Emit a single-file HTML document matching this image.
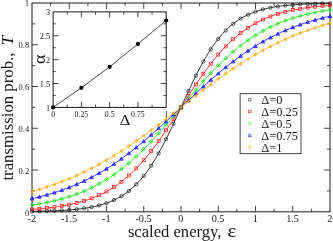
<!DOCTYPE html>
<html><head><meta charset="utf-8"><title>chart</title>
<style>html,body{margin:0;padding:0;background:#fff;}svg{display:block;will-change:transform}</style></head>
<body><svg width="333" height="241" viewBox="0 0 333 241">
<rect x="0" y="0" width="333" height="241" fill="#fff"/>
<rect x="32.0" y="3.0" width="298.0" height="208.8" fill="none" stroke="#1a1a1a" stroke-width="1"/>
<path d="M50.62 211.8v-3.1M50.62 3.0v3.1M69.25 211.8v-6.0M69.25 3.0v6.0M87.88 211.8v-3.1M87.88 3.0v3.1M106.50 211.8v-6.0M106.50 3.0v6.0M125.12 211.8v-3.1M125.12 3.0v3.1M143.75 211.8v-6.0M143.75 3.0v6.0M162.38 211.8v-3.1M162.38 3.0v3.1M181.00 211.8v-6.0M181.00 3.0v6.0M199.62 211.8v-3.1M199.62 3.0v3.1M218.25 211.8v-6.0M218.25 3.0v6.0M236.88 211.8v-3.1M236.88 3.0v3.1M255.50 211.8v-6.0M255.50 3.0v6.0M274.12 211.8v-3.1M274.12 3.0v3.1M292.75 211.8v-6.0M292.75 3.0v6.0M311.38 211.8v-3.1M311.38 3.0v3.1M32.0 190.92h3.1M330.0 190.92h-3.1M32.0 170.04h6.0M330.0 170.04h-6.0M32.0 149.16h3.1M330.0 149.16h-3.1M32.0 128.28h6.0M330.0 128.28h-6.0M32.0 107.40h3.1M330.0 107.40h-3.1M32.0 86.52h6.0M330.0 86.52h-6.0M32.0 65.64h3.1M330.0 65.64h-3.1M32.0 44.76h6.0M330.0 44.76h-6.0M32.0 23.88h3.1M330.0 23.88h-3.1" stroke="#1a1a1a" stroke-width="0.8" fill="none"/>
<clipPath id="c"><rect x="29.0" y="0.0" width="304.0" height="214.8"/></clipPath>
<g clip-path="url(#c)">
<polyline points="32.00,211.41 33.49,211.39 34.98,211.36 36.47,211.33 37.96,211.30 39.45,211.27 40.94,211.23 42.43,211.20 43.92,211.16 45.41,211.12 46.90,211.07 48.39,211.02 49.88,210.97 51.37,210.92 52.86,210.86 54.35,210.80 55.84,210.74 57.33,210.67 58.82,210.60 60.31,210.52 61.80,210.44 63.29,210.35 64.78,210.26 66.27,210.16 67.76,210.05 69.25,209.94 70.74,209.82 72.23,209.69 73.72,209.56 75.21,209.42 76.70,209.26 78.19,209.10 79.68,208.93 81.17,208.74 82.66,208.55 84.15,208.34 85.64,208.12 87.13,207.89 88.62,207.64 90.11,207.38 91.60,207.09 93.09,206.80 94.58,206.48 96.07,206.15 97.56,205.79 99.05,205.41 100.54,205.01 102.03,204.59 103.52,204.13 105.01,203.66 106.50,203.15 107.99,202.61 109.48,202.05 110.97,201.45 112.46,200.81 113.95,200.14 115.44,199.42 116.93,198.67 118.42,197.88 119.91,197.04 121.40,196.15 122.89,195.22 124.38,194.24 125.87,193.20 127.36,192.11 128.85,190.96 130.34,189.75 131.83,188.48 133.32,187.14 134.81,185.74 136.30,184.28 137.79,182.74 139.28,181.13 140.77,179.45 142.26,177.70 143.75,175.86 145.24,173.96 146.73,171.97 148.22,169.91 149.71,167.76 151.20,165.54 152.69,163.24 154.18,160.86 155.67,158.40 157.16,155.86 158.65,153.25 160.14,150.57 161.63,147.82 163.12,144.99 164.61,142.11 166.10,139.16 167.59,136.16 169.08,133.10 170.57,130.00 172.06,126.85 173.55,123.67 175.04,120.45 176.53,117.21 178.02,113.95 179.51,110.68 181.00,107.40 182.49,104.12 183.98,100.85 185.47,97.59 186.96,94.35 188.45,91.13 189.94,87.95 191.43,84.80 192.92,81.70 194.41,78.64 195.90,75.64 197.39,72.69 198.88,69.81 200.37,66.98 201.86,64.23 203.35,61.55 204.84,58.94 206.33,56.40 207.82,53.94 209.31,51.56 210.80,49.26 212.29,47.04 213.78,44.89 215.27,42.83 216.76,40.84 218.25,38.94 219.74,37.10 221.23,35.35 222.72,33.67 224.21,32.06 225.70,30.52 227.19,29.06 228.68,27.66 230.17,26.32 231.66,25.05 233.15,23.84 234.64,22.69 236.13,21.60 237.62,20.56 239.11,19.58 240.60,18.65 242.09,17.76 243.58,16.92 245.07,16.13 246.56,15.38 248.05,14.66 249.54,13.99 251.03,13.35 252.52,12.75 254.01,12.19 255.50,11.65 256.99,11.14 258.48,10.67 259.97,10.21 261.46,9.79 262.95,9.39 264.44,9.01 265.93,8.65 267.42,8.32 268.91,8.00 270.40,7.71 271.89,7.42 273.38,7.16 274.87,6.91 276.36,6.68 277.85,6.46 279.34,6.25 280.83,6.06 282.32,5.87 283.81,5.70 285.30,5.54 286.79,5.38 288.28,5.24 289.77,5.11 291.26,4.98 292.75,4.86 294.24,4.75 295.73,4.64 297.22,4.54 298.71,4.45 300.20,4.36 301.69,4.28 303.18,4.20 304.67,4.13 306.16,4.06 307.65,4.00 309.14,3.94 310.63,3.88 312.12,3.83 313.61,3.78 315.10,3.73 316.59,3.68 318.08,3.64 319.57,3.60 321.06,3.57 322.55,3.53 324.04,3.50 325.53,3.47 327.02,3.44 328.51,3.41 330.00,3.39" fill="none" stroke="#000000" stroke-width="0.8"/>
<circle cx="32.00" cy="211.41" r="1.65" fill="none" stroke="#000000" stroke-width="0.65"/>
<circle cx="39.45" cy="211.27" r="1.65" fill="none" stroke="#000000" stroke-width="0.65"/>
<circle cx="46.90" cy="211.07" r="1.65" fill="none" stroke="#000000" stroke-width="0.65"/>
<circle cx="54.35" cy="210.80" r="1.65" fill="none" stroke="#000000" stroke-width="0.65"/>
<circle cx="61.80" cy="210.44" r="1.65" fill="none" stroke="#000000" stroke-width="0.65"/>
<circle cx="69.25" cy="209.94" r="1.65" fill="none" stroke="#000000" stroke-width="0.65"/>
<circle cx="76.70" cy="209.26" r="1.65" fill="none" stroke="#000000" stroke-width="0.65"/>
<circle cx="84.15" cy="208.34" r="1.65" fill="none" stroke="#000000" stroke-width="0.65"/>
<circle cx="91.60" cy="207.09" r="1.65" fill="none" stroke="#000000" stroke-width="0.65"/>
<circle cx="99.05" cy="205.41" r="1.65" fill="none" stroke="#000000" stroke-width="0.65"/>
<circle cx="106.50" cy="203.15" r="1.65" fill="none" stroke="#000000" stroke-width="0.65"/>
<circle cx="113.95" cy="200.14" r="1.65" fill="none" stroke="#000000" stroke-width="0.65"/>
<circle cx="121.40" cy="196.15" r="1.65" fill="none" stroke="#000000" stroke-width="0.65"/>
<circle cx="128.85" cy="190.96" r="1.65" fill="none" stroke="#000000" stroke-width="0.65"/>
<circle cx="136.30" cy="184.28" r="1.65" fill="none" stroke="#000000" stroke-width="0.65"/>
<circle cx="143.75" cy="175.86" r="1.65" fill="none" stroke="#000000" stroke-width="0.65"/>
<circle cx="151.20" cy="165.54" r="1.65" fill="none" stroke="#000000" stroke-width="0.65"/>
<circle cx="158.65" cy="153.25" r="1.65" fill="none" stroke="#000000" stroke-width="0.65"/>
<circle cx="166.10" cy="139.16" r="1.65" fill="none" stroke="#000000" stroke-width="0.65"/>
<circle cx="173.55" cy="123.67" r="1.65" fill="none" stroke="#000000" stroke-width="0.65"/>
<circle cx="181.00" cy="107.40" r="1.65" fill="none" stroke="#000000" stroke-width="0.65"/>
<circle cx="188.45" cy="91.13" r="1.65" fill="none" stroke="#000000" stroke-width="0.65"/>
<circle cx="195.90" cy="75.64" r="1.65" fill="none" stroke="#000000" stroke-width="0.65"/>
<circle cx="203.35" cy="61.55" r="1.65" fill="none" stroke="#000000" stroke-width="0.65"/>
<circle cx="210.80" cy="49.26" r="1.65" fill="none" stroke="#000000" stroke-width="0.65"/>
<circle cx="218.25" cy="38.94" r="1.65" fill="none" stroke="#000000" stroke-width="0.65"/>
<circle cx="225.70" cy="30.52" r="1.65" fill="none" stroke="#000000" stroke-width="0.65"/>
<circle cx="233.15" cy="23.84" r="1.65" fill="none" stroke="#000000" stroke-width="0.65"/>
<circle cx="240.60" cy="18.65" r="1.65" fill="none" stroke="#000000" stroke-width="0.65"/>
<circle cx="248.05" cy="14.66" r="1.65" fill="none" stroke="#000000" stroke-width="0.65"/>
<circle cx="255.50" cy="11.65" r="1.65" fill="none" stroke="#000000" stroke-width="0.65"/>
<circle cx="262.95" cy="9.39" r="1.65" fill="none" stroke="#000000" stroke-width="0.65"/>
<circle cx="270.40" cy="7.71" r="1.65" fill="none" stroke="#000000" stroke-width="0.65"/>
<circle cx="277.85" cy="6.46" r="1.65" fill="none" stroke="#000000" stroke-width="0.65"/>
<circle cx="285.30" cy="5.54" r="1.65" fill="none" stroke="#000000" stroke-width="0.65"/>
<circle cx="292.75" cy="4.86" r="1.65" fill="none" stroke="#000000" stroke-width="0.65"/>
<circle cx="300.20" cy="4.36" r="1.65" fill="none" stroke="#000000" stroke-width="0.65"/>
<circle cx="307.65" cy="4.00" r="1.65" fill="none" stroke="#000000" stroke-width="0.65"/>
<circle cx="315.10" cy="3.73" r="1.65" fill="none" stroke="#000000" stroke-width="0.65"/>
<circle cx="322.55" cy="3.53" r="1.65" fill="none" stroke="#000000" stroke-width="0.65"/>
<circle cx="330.00" cy="3.39" r="1.65" fill="none" stroke="#000000" stroke-width="0.65"/>
<polyline points="32.00,209.40 33.49,209.30 34.98,209.18 36.47,209.07 37.96,208.94 39.45,208.81 40.94,208.68 42.43,208.54 43.92,208.39 45.41,208.24 46.90,208.08 48.39,207.92 49.88,207.74 51.37,207.56 52.86,207.37 54.35,207.18 55.84,206.97 57.33,206.76 58.82,206.53 60.31,206.30 61.80,206.05 63.29,205.80 64.78,205.53 66.27,205.26 67.76,204.97 69.25,204.67 70.74,204.36 72.23,204.03 73.72,203.69 75.21,203.33 76.70,202.96 78.19,202.58 79.68,202.18 81.17,201.76 82.66,201.33 84.15,200.87 85.64,200.40 87.13,199.91 88.62,199.40 90.11,198.87 91.60,198.32 93.09,197.75 94.58,197.16 96.07,196.54 97.56,195.89 99.05,195.23 100.54,194.53 102.03,193.81 103.52,193.07 105.01,192.30 106.50,191.49 107.99,190.66 109.48,189.80 110.97,188.91 112.46,187.98 113.95,187.03 115.44,186.04 116.93,185.01 118.42,183.95 119.91,182.86 121.40,181.73 122.89,180.57 124.38,179.37 125.87,178.13 127.36,176.85 128.85,175.53 130.34,174.18 131.83,172.78 133.32,171.35 134.81,169.88 136.30,168.36 137.79,166.81 139.28,165.22 140.77,163.59 142.26,161.91 143.75,160.20 145.24,158.45 146.73,156.66 148.22,154.83 149.71,152.97 151.20,151.07 152.69,149.13 154.18,147.16 155.67,145.16 157.16,143.12 158.65,141.05 160.14,138.95 161.63,136.82 163.12,134.67 164.61,132.49 166.10,130.28 167.59,128.06 169.08,125.81 170.57,123.55 172.06,121.27 173.55,118.98 175.04,116.68 176.53,114.37 178.02,112.05 179.51,109.73 181.00,107.40 182.49,105.07 183.98,102.75 185.47,100.43 186.96,98.12 188.45,95.82 189.94,93.53 191.43,91.25 192.92,88.99 194.41,86.74 195.90,84.52 197.39,82.31 198.88,80.13 200.37,77.98 201.86,75.85 203.35,73.75 204.84,71.68 206.33,69.64 207.82,67.64 209.31,65.67 210.80,63.73 212.29,61.83 213.78,59.97 215.27,58.14 216.76,56.35 218.25,54.60 219.74,52.89 221.23,51.21 222.72,49.58 224.21,47.99 225.70,46.44 227.19,44.92 228.68,43.45 230.17,42.02 231.66,40.62 233.15,39.27 234.64,37.95 236.13,36.67 237.62,35.43 239.11,34.23 240.60,33.07 242.09,31.94 243.58,30.85 245.07,29.79 246.56,28.76 248.05,27.77 249.54,26.82 251.03,25.89 252.52,25.00 254.01,24.14 255.50,23.31 256.99,22.50 258.48,21.73 259.97,20.99 261.46,20.27 262.95,19.57 264.44,18.91 265.93,18.26 267.42,17.64 268.91,17.05 270.40,16.48 271.89,15.93 273.38,15.40 274.87,14.89 276.36,14.40 277.85,13.93 279.34,13.47 280.83,13.04 282.32,12.62 283.81,12.22 285.30,11.84 286.79,11.47 288.28,11.11 289.77,10.77 291.26,10.44 292.75,10.13 294.24,9.83 295.73,9.54 297.22,9.27 298.71,9.00 300.20,8.75 301.69,8.50 303.18,8.27 304.67,8.04 306.16,7.83 307.65,7.62 309.14,7.43 310.63,7.24 312.12,7.06 313.61,6.88 315.10,6.72 316.59,6.56 318.08,6.41 319.57,6.26 321.06,6.12 322.55,5.99 324.04,5.86 325.53,5.73 327.02,5.62 328.51,5.50 330.00,5.40" fill="none" stroke="#ff0000" stroke-width="0.8"/>
<rect x="30.52" y="207.92" width="2.97" height="2.97" fill="none" stroke="#ff0000" stroke-width="0.65"/>
<rect x="37.97" y="207.33" width="2.97" height="2.97" fill="none" stroke="#ff0000" stroke-width="0.65"/>
<rect x="45.41" y="206.60" width="2.97" height="2.97" fill="none" stroke="#ff0000" stroke-width="0.65"/>
<rect x="52.87" y="205.69" width="2.97" height="2.97" fill="none" stroke="#ff0000" stroke-width="0.65"/>
<rect x="60.31" y="204.57" width="2.97" height="2.97" fill="none" stroke="#ff0000" stroke-width="0.65"/>
<rect x="67.77" y="203.18" width="2.97" height="2.97" fill="none" stroke="#ff0000" stroke-width="0.65"/>
<rect x="75.22" y="201.48" width="2.97" height="2.97" fill="none" stroke="#ff0000" stroke-width="0.65"/>
<rect x="82.67" y="199.39" width="2.97" height="2.97" fill="none" stroke="#ff0000" stroke-width="0.65"/>
<rect x="90.11" y="196.84" width="2.97" height="2.97" fill="none" stroke="#ff0000" stroke-width="0.65"/>
<rect x="97.56" y="193.74" width="2.97" height="2.97" fill="none" stroke="#ff0000" stroke-width="0.65"/>
<rect x="105.02" y="190.01" width="2.97" height="2.97" fill="none" stroke="#ff0000" stroke-width="0.65"/>
<rect x="112.47" y="185.54" width="2.97" height="2.97" fill="none" stroke="#ff0000" stroke-width="0.65"/>
<rect x="119.92" y="180.25" width="2.97" height="2.97" fill="none" stroke="#ff0000" stroke-width="0.65"/>
<rect x="127.37" y="174.05" width="2.97" height="2.97" fill="none" stroke="#ff0000" stroke-width="0.65"/>
<rect x="134.81" y="166.88" width="2.97" height="2.97" fill="none" stroke="#ff0000" stroke-width="0.65"/>
<rect x="142.26" y="158.72" width="2.97" height="2.97" fill="none" stroke="#ff0000" stroke-width="0.65"/>
<rect x="149.71" y="149.58" width="2.97" height="2.97" fill="none" stroke="#ff0000" stroke-width="0.65"/>
<rect x="157.17" y="139.56" width="2.97" height="2.97" fill="none" stroke="#ff0000" stroke-width="0.65"/>
<rect x="164.61" y="128.80" width="2.97" height="2.97" fill="none" stroke="#ff0000" stroke-width="0.65"/>
<rect x="172.06" y="117.50" width="2.97" height="2.97" fill="none" stroke="#ff0000" stroke-width="0.65"/>
<rect x="179.51" y="105.92" width="2.97" height="2.97" fill="none" stroke="#ff0000" stroke-width="0.65"/>
<rect x="186.97" y="94.33" width="2.97" height="2.97" fill="none" stroke="#ff0000" stroke-width="0.65"/>
<rect x="194.41" y="83.03" width="2.97" height="2.97" fill="none" stroke="#ff0000" stroke-width="0.65"/>
<rect x="201.87" y="72.27" width="2.97" height="2.97" fill="none" stroke="#ff0000" stroke-width="0.65"/>
<rect x="209.32" y="62.25" width="2.97" height="2.97" fill="none" stroke="#ff0000" stroke-width="0.65"/>
<rect x="216.76" y="53.11" width="2.97" height="2.97" fill="none" stroke="#ff0000" stroke-width="0.65"/>
<rect x="224.22" y="44.95" width="2.97" height="2.97" fill="none" stroke="#ff0000" stroke-width="0.65"/>
<rect x="231.66" y="37.78" width="2.97" height="2.97" fill="none" stroke="#ff0000" stroke-width="0.65"/>
<rect x="239.12" y="31.58" width="2.97" height="2.97" fill="none" stroke="#ff0000" stroke-width="0.65"/>
<rect x="246.57" y="26.29" width="2.97" height="2.97" fill="none" stroke="#ff0000" stroke-width="0.65"/>
<rect x="254.01" y="21.82" width="2.97" height="2.97" fill="none" stroke="#ff0000" stroke-width="0.65"/>
<rect x="261.47" y="18.09" width="2.97" height="2.97" fill="none" stroke="#ff0000" stroke-width="0.65"/>
<rect x="268.91" y="14.99" width="2.97" height="2.97" fill="none" stroke="#ff0000" stroke-width="0.65"/>
<rect x="276.37" y="12.44" width="2.97" height="2.97" fill="none" stroke="#ff0000" stroke-width="0.65"/>
<rect x="283.82" y="10.35" width="2.97" height="2.97" fill="none" stroke="#ff0000" stroke-width="0.65"/>
<rect x="291.26" y="8.65" width="2.97" height="2.97" fill="none" stroke="#ff0000" stroke-width="0.65"/>
<rect x="298.71" y="7.26" width="2.97" height="2.97" fill="none" stroke="#ff0000" stroke-width="0.65"/>
<rect x="306.17" y="6.14" width="2.97" height="2.97" fill="none" stroke="#ff0000" stroke-width="0.65"/>
<rect x="313.62" y="5.23" width="2.97" height="2.97" fill="none" stroke="#ff0000" stroke-width="0.65"/>
<rect x="321.06" y="4.50" width="2.97" height="2.97" fill="none" stroke="#ff0000" stroke-width="0.65"/>
<rect x="328.51" y="3.91" width="2.97" height="2.97" fill="none" stroke="#ff0000" stroke-width="0.65"/>
<polyline points="32.00,205.03 33.49,204.81 34.98,204.57 36.47,204.33 37.96,204.08 39.45,203.83 40.94,203.56 42.43,203.29 43.92,203.01 45.41,202.72 46.90,202.42 48.39,202.11 49.88,201.79 51.37,201.46 52.86,201.12 54.35,200.77 55.84,200.41 57.33,200.04 58.82,199.66 60.31,199.27 61.80,198.86 63.29,198.44 64.78,198.01 66.27,197.57 67.76,197.11 69.25,196.64 70.74,196.15 72.23,195.66 73.72,195.14 75.21,194.61 76.70,194.07 78.19,193.51 79.68,192.94 81.17,192.35 82.66,191.74 84.15,191.11 85.64,190.47 87.13,189.81 88.62,189.14 90.11,188.44 91.60,187.73 93.09,186.99 94.58,186.24 96.07,185.47 97.56,184.68 99.05,183.87 100.54,183.04 102.03,182.18 103.52,181.31 105.01,180.41 106.50,179.50 107.99,178.56 109.48,177.60 110.97,176.62 112.46,175.61 113.95,174.58 115.44,173.53 116.93,172.46 118.42,171.37 119.91,170.25 121.40,169.10 122.89,167.94 124.38,166.75 125.87,165.54 127.36,164.31 128.85,163.05 130.34,161.77 131.83,160.46 133.32,159.14 134.81,157.79 136.30,156.42 137.79,155.02 139.28,153.61 140.77,152.17 142.26,150.72 143.75,149.24 145.24,147.74 146.73,146.22 148.22,144.68 149.71,143.13 151.20,141.55 152.69,139.96 154.18,138.35 155.67,136.73 157.16,135.09 158.65,133.43 160.14,131.76 161.63,130.08 163.12,128.38 164.61,126.68 166.10,124.96 167.59,123.23 169.08,121.50 170.57,119.75 172.06,118.00 173.55,116.24 175.04,114.48 176.53,112.71 178.02,110.94 179.51,109.17 181.00,107.40 182.49,105.63 183.98,103.86 185.47,102.09 186.96,100.32 188.45,98.56 189.94,96.80 191.43,95.05 192.92,93.30 194.41,91.57 195.90,89.84 197.39,88.12 198.88,86.42 200.37,84.72 201.86,83.04 203.35,81.37 204.84,79.71 206.33,78.07 207.82,76.45 209.31,74.84 210.80,73.25 212.29,71.67 213.78,70.12 215.27,68.58 216.76,67.06 218.25,65.56 219.74,64.08 221.23,62.63 222.72,61.19 224.21,59.78 225.70,58.38 227.19,57.01 228.68,55.66 230.17,54.34 231.66,53.03 233.15,51.75 234.64,50.49 236.13,49.26 237.62,48.05 239.11,46.86 240.60,45.70 242.09,44.55 243.58,43.43 245.07,42.34 246.56,41.27 248.05,40.22 249.54,39.19 251.03,38.18 252.52,37.20 254.01,36.24 255.50,35.30 256.99,34.39 258.48,33.49 259.97,32.62 261.46,31.76 262.95,30.93 264.44,30.12 265.93,29.33 267.42,28.56 268.91,27.81 270.40,27.07 271.89,26.36 273.38,25.66 274.87,24.99 276.36,24.33 277.85,23.69 279.34,23.06 280.83,22.45 282.32,21.86 283.81,21.29 285.30,20.73 286.79,20.19 288.28,19.66 289.77,19.14 291.26,18.65 292.75,18.16 294.24,17.69 295.73,17.23 297.22,16.79 298.71,16.36 300.20,15.94 301.69,15.53 303.18,15.14 304.67,14.76 306.16,14.39 307.65,14.03 309.14,13.68 310.63,13.34 312.12,13.01 313.61,12.69 315.10,12.38 316.59,12.08 318.08,11.79 319.57,11.51 321.06,11.24 322.55,10.97 324.04,10.72 325.53,10.47 327.02,10.23 328.51,9.99 330.00,9.77" fill="none" stroke="#00e000" stroke-width="0.8"/>
<path d="M32.00 203.14L33.90 205.03L32.00 206.93L30.10 205.03Z" fill="#00e000" fill-opacity="0.3" stroke="#00e000" stroke-width="0.65"/>
<path d="M39.45 201.93L41.35 203.83L39.45 205.73L37.55 203.83Z" fill="#00e000" fill-opacity="0.3" stroke="#00e000" stroke-width="0.65"/>
<path d="M46.90 200.52L48.80 202.42L46.90 204.32L45.00 202.42Z" fill="#00e000" fill-opacity="0.3" stroke="#00e000" stroke-width="0.65"/>
<path d="M54.35 198.88L56.25 200.77L54.35 202.67L52.45 200.77Z" fill="#00e000" fill-opacity="0.3" stroke="#00e000" stroke-width="0.65"/>
<path d="M61.80 196.96L63.70 198.86L61.80 200.76L59.90 198.86Z" fill="#00e000" fill-opacity="0.3" stroke="#00e000" stroke-width="0.65"/>
<path d="M69.25 194.74L71.15 196.64L69.25 198.54L67.35 196.64Z" fill="#00e000" fill-opacity="0.3" stroke="#00e000" stroke-width="0.65"/>
<path d="M76.70 192.17L78.60 194.07L76.70 195.97L74.80 194.07Z" fill="#00e000" fill-opacity="0.3" stroke="#00e000" stroke-width="0.65"/>
<path d="M84.15 189.22L86.05 191.11L84.15 193.01L82.25 191.11Z" fill="#00e000" fill-opacity="0.3" stroke="#00e000" stroke-width="0.65"/>
<path d="M91.60 185.83L93.50 187.73L91.60 189.62L89.70 187.73Z" fill="#00e000" fill-opacity="0.3" stroke="#00e000" stroke-width="0.65"/>
<path d="M99.05 181.97L100.95 183.87L99.05 185.77L97.15 183.87Z" fill="#00e000" fill-opacity="0.3" stroke="#00e000" stroke-width="0.65"/>
<path d="M106.50 177.60L108.40 179.50L106.50 181.39L104.60 179.50Z" fill="#00e000" fill-opacity="0.3" stroke="#00e000" stroke-width="0.65"/>
<path d="M113.95 172.69L115.85 174.58L113.95 176.48L112.05 174.58Z" fill="#00e000" fill-opacity="0.3" stroke="#00e000" stroke-width="0.65"/>
<path d="M121.40 167.21L123.30 169.10L121.40 171.00L119.50 169.10Z" fill="#00e000" fill-opacity="0.3" stroke="#00e000" stroke-width="0.65"/>
<path d="M128.85 161.15L130.75 163.05L128.85 164.94L126.95 163.05Z" fill="#00e000" fill-opacity="0.3" stroke="#00e000" stroke-width="0.65"/>
<path d="M136.30 154.52L138.20 156.42L136.30 158.31L134.40 156.42Z" fill="#00e000" fill-opacity="0.3" stroke="#00e000" stroke-width="0.65"/>
<path d="M143.75 147.34L145.65 149.24L143.75 151.14L141.85 149.24Z" fill="#00e000" fill-opacity="0.3" stroke="#00e000" stroke-width="0.65"/>
<path d="M151.20 139.66L153.10 141.55L151.20 143.45L149.30 141.55Z" fill="#00e000" fill-opacity="0.3" stroke="#00e000" stroke-width="0.65"/>
<path d="M158.65 131.54L160.55 133.43L158.65 135.33L156.75 133.43Z" fill="#00e000" fill-opacity="0.3" stroke="#00e000" stroke-width="0.65"/>
<path d="M166.10 123.06L168.00 124.96L166.10 126.86L164.20 124.96Z" fill="#00e000" fill-opacity="0.3" stroke="#00e000" stroke-width="0.65"/>
<path d="M173.55 114.35L175.45 116.24L173.55 118.14L171.65 116.24Z" fill="#00e000" fill-opacity="0.3" stroke="#00e000" stroke-width="0.65"/>
<path d="M181.00 105.50L182.90 107.40L181.00 109.30L179.10 107.40Z" fill="#00e000" fill-opacity="0.3" stroke="#00e000" stroke-width="0.65"/>
<path d="M188.45 96.66L190.35 98.56L188.45 100.45L186.55 98.56Z" fill="#00e000" fill-opacity="0.3" stroke="#00e000" stroke-width="0.65"/>
<path d="M195.90 87.94L197.80 89.84L195.90 91.74L194.00 89.84Z" fill="#00e000" fill-opacity="0.3" stroke="#00e000" stroke-width="0.65"/>
<path d="M203.35 79.47L205.25 81.37L203.35 83.26L201.45 81.37Z" fill="#00e000" fill-opacity="0.3" stroke="#00e000" stroke-width="0.65"/>
<path d="M210.80 71.35L212.70 73.25L210.80 75.14L208.90 73.25Z" fill="#00e000" fill-opacity="0.3" stroke="#00e000" stroke-width="0.65"/>
<path d="M218.25 63.66L220.15 65.56L218.25 67.46L216.35 65.56Z" fill="#00e000" fill-opacity="0.3" stroke="#00e000" stroke-width="0.65"/>
<path d="M225.70 56.49L227.60 58.38L225.70 60.28L223.80 58.38Z" fill="#00e000" fill-opacity="0.3" stroke="#00e000" stroke-width="0.65"/>
<path d="M233.15 49.86L235.05 51.75L233.15 53.65L231.25 51.75Z" fill="#00e000" fill-opacity="0.3" stroke="#00e000" stroke-width="0.65"/>
<path d="M240.60 43.80L242.50 45.70L240.60 47.59L238.70 45.70Z" fill="#00e000" fill-opacity="0.3" stroke="#00e000" stroke-width="0.65"/>
<path d="M248.05 38.32L249.95 40.22L248.05 42.11L246.15 40.22Z" fill="#00e000" fill-opacity="0.3" stroke="#00e000" stroke-width="0.65"/>
<path d="M255.50 33.41L257.40 35.30L255.50 37.20L253.60 35.30Z" fill="#00e000" fill-opacity="0.3" stroke="#00e000" stroke-width="0.65"/>
<path d="M262.95 29.03L264.85 30.93L262.95 32.83L261.05 30.93Z" fill="#00e000" fill-opacity="0.3" stroke="#00e000" stroke-width="0.65"/>
<path d="M270.40 25.18L272.30 27.07L270.40 28.97L268.50 27.07Z" fill="#00e000" fill-opacity="0.3" stroke="#00e000" stroke-width="0.65"/>
<path d="M277.85 21.79L279.75 23.69L277.85 25.58L275.95 23.69Z" fill="#00e000" fill-opacity="0.3" stroke="#00e000" stroke-width="0.65"/>
<path d="M285.30 18.83L287.20 20.73L285.30 22.63L283.40 20.73Z" fill="#00e000" fill-opacity="0.3" stroke="#00e000" stroke-width="0.65"/>
<path d="M292.75 16.26L294.65 18.16L292.75 20.06L290.85 18.16Z" fill="#00e000" fill-opacity="0.3" stroke="#00e000" stroke-width="0.65"/>
<path d="M300.20 14.04L302.10 15.94L300.20 17.84L298.30 15.94Z" fill="#00e000" fill-opacity="0.3" stroke="#00e000" stroke-width="0.65"/>
<path d="M307.65 12.13L309.55 14.03L307.65 15.92L305.75 14.03Z" fill="#00e000" fill-opacity="0.3" stroke="#00e000" stroke-width="0.65"/>
<path d="M315.10 10.48L317.00 12.38L315.10 14.28L313.20 12.38Z" fill="#00e000" fill-opacity="0.3" stroke="#00e000" stroke-width="0.65"/>
<path d="M322.55 9.07L324.45 10.97L322.55 12.87L320.65 10.97Z" fill="#00e000" fill-opacity="0.3" stroke="#00e000" stroke-width="0.65"/>
<path d="M330.00 7.87L331.90 9.77L330.00 11.66L328.10 9.77Z" fill="#00e000" fill-opacity="0.3" stroke="#00e000" stroke-width="0.65"/>
<polyline points="32.00,198.61 33.49,198.27 34.98,197.93 36.47,197.57 37.96,197.21 39.45,196.84 40.94,196.46 42.43,196.08 43.92,195.68 45.41,195.27 46.90,194.86 48.39,194.43 49.88,194.00 51.37,193.56 52.86,193.10 54.35,192.64 55.84,192.16 57.33,191.68 58.82,191.18 60.31,190.68 61.80,190.16 63.29,189.63 64.78,189.09 66.27,188.54 67.76,187.97 69.25,187.40 70.74,186.81 72.23,186.21 73.72,185.60 75.21,184.98 76.70,184.34 78.19,183.69 79.68,183.03 81.17,182.35 82.66,181.66 84.15,180.96 85.64,180.25 87.13,179.52 88.62,178.77 90.11,178.02 91.60,177.25 93.09,176.46 94.58,175.66 96.07,174.85 97.56,174.02 99.05,173.18 100.54,172.33 102.03,171.46 103.52,170.57 105.01,169.67 106.50,168.76 107.99,167.83 109.48,166.88 110.97,165.93 112.46,164.95 113.95,163.97 115.44,162.97 116.93,161.95 118.42,160.92 119.91,159.87 121.40,158.81 122.89,157.74 124.38,156.65 125.87,155.55 127.36,154.44 128.85,153.31 130.34,152.17 131.83,151.01 133.32,149.84 134.81,148.66 136.30,147.47 137.79,146.26 139.28,145.04 140.77,143.81 142.26,142.57 143.75,141.32 145.24,140.05 146.73,138.78 148.22,137.49 149.71,136.20 151.20,134.89 152.69,133.58 154.18,132.25 155.67,130.92 157.16,129.58 158.65,128.23 160.14,126.88 161.63,125.51 163.12,124.15 164.61,122.77 166.10,121.39 167.59,120.01 169.08,118.62 170.57,117.22 172.06,115.83 173.55,114.43 175.04,113.03 176.53,111.62 178.02,110.21 179.51,108.81 181.00,107.40 182.49,105.99 183.98,104.59 185.47,103.18 186.96,101.77 188.45,100.37 189.94,98.97 191.43,97.58 192.92,96.18 194.41,94.79 195.90,93.41 197.39,92.03 198.88,90.65 200.37,89.29 201.86,87.92 203.35,86.57 204.84,85.22 206.33,83.88 207.82,82.55 209.31,81.22 210.80,79.91 212.29,78.60 213.78,77.31 215.27,76.02 216.76,74.75 218.25,73.48 219.74,72.23 221.23,70.99 222.72,69.76 224.21,68.54 225.70,67.33 227.19,66.14 228.68,64.96 230.17,63.79 231.66,62.63 233.15,61.49 234.64,60.36 236.13,59.25 237.62,58.15 239.11,57.06 240.60,55.99 242.09,54.93 243.58,53.88 245.07,52.85 246.56,51.83 248.05,50.83 249.54,49.85 251.03,48.87 252.52,47.92 254.01,46.97 255.50,46.04 256.99,45.13 258.48,44.23 259.97,43.34 261.46,42.47 262.95,41.62 264.44,40.78 265.93,39.95 267.42,39.14 268.91,38.34 270.40,37.55 271.89,36.78 273.38,36.03 274.87,35.28 276.36,34.55 277.85,33.84 279.34,33.14 280.83,32.45 282.32,31.77 283.81,31.11 285.30,30.46 286.79,29.82 288.28,29.20 289.77,28.59 291.26,27.99 292.75,27.40 294.24,26.83 295.73,26.26 297.22,25.71 298.71,25.17 300.20,24.64 301.69,24.12 303.18,23.62 304.67,23.12 306.16,22.64 307.65,22.16 309.14,21.70 310.63,21.24 312.12,20.80 313.61,20.37 315.10,19.94 316.59,19.53 318.08,19.12 319.57,18.72 321.06,18.34 322.55,17.96 324.04,17.59 325.53,17.23 327.02,16.87 328.51,16.53 330.00,16.19" fill="none" stroke="#0000ff" stroke-width="0.8"/>
<path d="M32.00 196.79L33.81 200.06L30.18 200.06Z" fill="#0000ff" fill-opacity="0.5" stroke="#0000ff" stroke-width="0.65"/>
<path d="M39.45 195.03L41.27 198.29L37.64 198.29Z" fill="#0000ff" fill-opacity="0.5" stroke="#0000ff" stroke-width="0.65"/>
<path d="M46.90 193.04L48.71 196.31L45.09 196.31Z" fill="#0000ff" fill-opacity="0.5" stroke="#0000ff" stroke-width="0.65"/>
<path d="M54.35 190.82L56.17 194.09L52.54 194.09Z" fill="#0000ff" fill-opacity="0.5" stroke="#0000ff" stroke-width="0.65"/>
<path d="M61.80 188.34L63.61 191.61L59.98 191.61Z" fill="#0000ff" fill-opacity="0.5" stroke="#0000ff" stroke-width="0.65"/>
<path d="M69.25 185.58L71.06 188.85L67.44 188.85Z" fill="#0000ff" fill-opacity="0.5" stroke="#0000ff" stroke-width="0.65"/>
<path d="M76.70 182.53L78.52 185.79L74.89 185.79Z" fill="#0000ff" fill-opacity="0.5" stroke="#0000ff" stroke-width="0.65"/>
<path d="M84.15 179.15L85.97 182.41L82.34 182.41Z" fill="#0000ff" fill-opacity="0.5" stroke="#0000ff" stroke-width="0.65"/>
<path d="M91.60 175.43L93.41 178.70L89.78 178.70Z" fill="#0000ff" fill-opacity="0.5" stroke="#0000ff" stroke-width="0.65"/>
<path d="M99.05 171.37L100.86 174.63L97.23 174.63Z" fill="#0000ff" fill-opacity="0.5" stroke="#0000ff" stroke-width="0.65"/>
<path d="M106.50 166.94L108.31 170.21L104.69 170.21Z" fill="#0000ff" fill-opacity="0.5" stroke="#0000ff" stroke-width="0.65"/>
<path d="M113.95 162.15L115.77 165.42L112.14 165.42Z" fill="#0000ff" fill-opacity="0.5" stroke="#0000ff" stroke-width="0.65"/>
<path d="M121.40 157.00L123.22 160.27L119.59 160.27Z" fill="#0000ff" fill-opacity="0.5" stroke="#0000ff" stroke-width="0.65"/>
<path d="M128.85 151.49L130.67 154.76L127.04 154.76Z" fill="#0000ff" fill-opacity="0.5" stroke="#0000ff" stroke-width="0.65"/>
<path d="M136.30 145.65L138.12 148.92L134.49 148.92Z" fill="#0000ff" fill-opacity="0.5" stroke="#0000ff" stroke-width="0.65"/>
<path d="M143.75 139.50L145.56 142.77L141.94 142.77Z" fill="#0000ff" fill-opacity="0.5" stroke="#0000ff" stroke-width="0.65"/>
<path d="M151.20 133.07L153.01 136.34L149.38 136.34Z" fill="#0000ff" fill-opacity="0.5" stroke="#0000ff" stroke-width="0.65"/>
<path d="M158.65 126.42L160.47 129.68L156.84 129.68Z" fill="#0000ff" fill-opacity="0.5" stroke="#0000ff" stroke-width="0.65"/>
<path d="M166.10 119.58L167.91 122.84L164.28 122.84Z" fill="#0000ff" fill-opacity="0.5" stroke="#0000ff" stroke-width="0.65"/>
<path d="M173.55 112.61L175.37 115.88L171.74 115.88Z" fill="#0000ff" fill-opacity="0.5" stroke="#0000ff" stroke-width="0.65"/>
<path d="M181.00 105.59L182.81 108.85L179.19 108.85Z" fill="#0000ff" fill-opacity="0.5" stroke="#0000ff" stroke-width="0.65"/>
<path d="M188.45 98.56L190.27 101.82L186.64 101.82Z" fill="#0000ff" fill-opacity="0.5" stroke="#0000ff" stroke-width="0.65"/>
<path d="M195.90 91.59L197.72 94.86L194.09 94.86Z" fill="#0000ff" fill-opacity="0.5" stroke="#0000ff" stroke-width="0.65"/>
<path d="M203.35 84.75L205.17 88.02L201.54 88.02Z" fill="#0000ff" fill-opacity="0.5" stroke="#0000ff" stroke-width="0.65"/>
<path d="M210.80 78.10L212.62 81.36L208.99 81.36Z" fill="#0000ff" fill-opacity="0.5" stroke="#0000ff" stroke-width="0.65"/>
<path d="M218.25 71.67L220.06 74.94L216.44 74.94Z" fill="#0000ff" fill-opacity="0.5" stroke="#0000ff" stroke-width="0.65"/>
<path d="M225.70 65.52L227.52 68.78L223.89 68.78Z" fill="#0000ff" fill-opacity="0.5" stroke="#0000ff" stroke-width="0.65"/>
<path d="M233.15 59.68L234.97 62.94L231.34 62.94Z" fill="#0000ff" fill-opacity="0.5" stroke="#0000ff" stroke-width="0.65"/>
<path d="M240.60 54.17L242.42 57.44L238.79 57.44Z" fill="#0000ff" fill-opacity="0.5" stroke="#0000ff" stroke-width="0.65"/>
<path d="M248.05 49.02L249.87 52.28L246.24 52.28Z" fill="#0000ff" fill-opacity="0.5" stroke="#0000ff" stroke-width="0.65"/>
<path d="M255.50 44.23L257.31 47.50L253.69 47.50Z" fill="#0000ff" fill-opacity="0.5" stroke="#0000ff" stroke-width="0.65"/>
<path d="M262.95 39.80L264.77 43.07L261.14 43.07Z" fill="#0000ff" fill-opacity="0.5" stroke="#0000ff" stroke-width="0.65"/>
<path d="M270.40 35.74L272.21 39.00L268.58 39.00Z" fill="#0000ff" fill-opacity="0.5" stroke="#0000ff" stroke-width="0.65"/>
<path d="M277.85 32.02L279.67 35.29L276.04 35.29Z" fill="#0000ff" fill-opacity="0.5" stroke="#0000ff" stroke-width="0.65"/>
<path d="M285.30 28.64L287.12 31.91L283.49 31.91Z" fill="#0000ff" fill-opacity="0.5" stroke="#0000ff" stroke-width="0.65"/>
<path d="M292.75 25.59L294.56 28.85L290.94 28.85Z" fill="#0000ff" fill-opacity="0.5" stroke="#0000ff" stroke-width="0.65"/>
<path d="M300.20 22.83L302.01 26.09L298.38 26.09Z" fill="#0000ff" fill-opacity="0.5" stroke="#0000ff" stroke-width="0.65"/>
<path d="M307.65 20.35L309.47 23.61L305.84 23.61Z" fill="#0000ff" fill-opacity="0.5" stroke="#0000ff" stroke-width="0.65"/>
<path d="M315.10 18.13L316.92 21.39L313.29 21.39Z" fill="#0000ff" fill-opacity="0.5" stroke="#0000ff" stroke-width="0.65"/>
<path d="M322.55 16.14L324.37 19.41L320.74 19.41Z" fill="#0000ff" fill-opacity="0.5" stroke="#0000ff" stroke-width="0.65"/>
<path d="M330.00 14.38L331.81 17.64L328.19 17.64Z" fill="#0000ff" fill-opacity="0.5" stroke="#0000ff" stroke-width="0.65"/>
<polyline points="32.00,191.49 33.49,191.08 34.98,190.66 36.47,190.23 37.96,189.80 39.45,189.36 40.94,188.91 42.43,188.45 43.92,187.98 45.41,187.51 46.90,187.03 48.39,186.54 49.88,186.04 51.37,185.53 52.86,185.01 54.35,184.49 55.84,183.95 57.33,183.41 58.82,182.86 60.31,182.30 61.80,181.73 63.29,181.15 64.78,180.57 66.27,179.97 67.76,179.37 69.25,178.75 70.74,178.13 72.23,177.49 73.72,176.85 75.21,176.20 76.70,175.53 78.19,174.86 79.68,174.18 81.17,173.49 82.66,172.78 84.15,172.07 85.64,171.35 87.13,170.62 88.62,169.88 90.11,169.13 91.60,168.36 93.09,167.59 94.58,166.81 96.07,166.02 97.56,165.22 99.05,164.41 100.54,163.59 102.03,162.75 103.52,161.91 105.01,161.06 106.50,160.20 107.99,159.33 109.48,158.45 110.97,157.56 112.46,156.66 113.95,155.75 115.44,154.83 116.93,153.91 118.42,152.97 119.91,152.02 121.40,151.07 122.89,150.11 124.38,149.13 125.87,148.15 127.36,147.16 128.85,146.16 130.34,145.16 131.83,144.14 133.32,143.12 134.81,142.09 136.30,141.05 137.79,140.00 139.28,138.95 140.77,137.89 142.26,136.82 143.75,135.75 145.24,134.67 146.73,133.58 148.22,132.49 149.71,131.39 151.20,130.28 152.69,129.17 154.18,128.06 155.67,126.94 157.16,125.81 158.65,124.69 160.14,123.55 161.63,122.41 163.12,121.27 164.61,120.13 166.10,118.98 167.59,117.83 169.08,116.68 170.57,115.52 172.06,114.37 173.55,113.21 175.04,112.05 176.53,110.89 178.02,109.73 179.51,108.56 181.00,107.40 182.49,106.24 183.98,105.07 185.47,103.91 186.96,102.75 188.45,101.59 189.94,100.43 191.43,99.28 192.92,98.12 194.41,96.97 195.90,95.82 197.39,94.67 198.88,93.53 200.37,92.39 201.86,91.25 203.35,90.11 204.84,88.99 206.33,87.86 207.82,86.74 209.31,85.63 210.80,84.52 212.29,83.41 213.78,82.31 215.27,81.22 216.76,80.13 218.25,79.05 219.74,77.98 221.23,76.91 222.72,75.85 224.21,74.80 225.70,73.75 227.19,72.71 228.68,71.68 230.17,70.66 231.66,69.64 233.15,68.64 234.64,67.64 236.13,66.65 237.62,65.67 239.11,64.69 240.60,63.73 242.09,62.78 243.58,61.83 245.07,60.89 246.56,59.97 248.05,59.05 249.54,58.14 251.03,57.24 252.52,56.35 254.01,55.47 255.50,54.60 256.99,53.74 258.48,52.89 259.97,52.05 261.46,51.21 262.95,50.39 264.44,49.58 265.93,48.78 267.42,47.99 268.91,47.21 270.40,46.44 271.89,45.67 273.38,44.92 274.87,44.18 276.36,43.45 277.85,42.73 279.34,42.02 280.83,41.31 282.32,40.62 283.81,39.94 285.30,39.27 286.79,38.60 288.28,37.95 289.77,37.31 291.26,36.67 292.75,36.05 294.24,35.43 295.73,34.83 297.22,34.23 298.71,33.65 300.20,33.07 301.69,32.50 303.18,31.94 304.67,31.39 306.16,30.85 307.65,30.31 309.14,29.79 310.63,29.27 312.12,28.76 313.61,28.26 315.10,27.77 316.59,27.29 318.08,26.82 319.57,26.35 321.06,25.89 322.55,25.44 324.04,25.00 325.53,24.57 327.02,24.14 328.51,23.72 330.00,23.31" fill="none" stroke="#ffa500" stroke-width="0.8"/>
<path d="M30.28 191.49L32.73 189.77L32.73 193.22Z" fill="#ffa500" fill-opacity="0.5" stroke="#ffa500" stroke-width="0.65"/>
<path d="M37.73 189.36L40.18 187.63L40.18 191.08Z" fill="#ffa500" fill-opacity="0.5" stroke="#ffa500" stroke-width="0.65"/>
<path d="M45.18 187.03L47.63 185.30L47.63 188.75Z" fill="#ffa500" fill-opacity="0.5" stroke="#ffa500" stroke-width="0.65"/>
<path d="M52.63 184.49L55.08 182.76L55.08 186.21Z" fill="#ffa500" fill-opacity="0.5" stroke="#ffa500" stroke-width="0.65"/>
<path d="M60.08 181.73L62.53 180.01L62.53 183.46Z" fill="#ffa500" fill-opacity="0.5" stroke="#ffa500" stroke-width="0.65"/>
<path d="M67.53 178.75L69.98 177.03L69.98 180.47Z" fill="#ffa500" fill-opacity="0.5" stroke="#ffa500" stroke-width="0.65"/>
<path d="M74.98 175.53L77.43 173.81L77.43 177.26Z" fill="#ffa500" fill-opacity="0.5" stroke="#ffa500" stroke-width="0.65"/>
<path d="M82.43 172.07L84.88 170.35L84.88 173.80Z" fill="#ffa500" fill-opacity="0.5" stroke="#ffa500" stroke-width="0.65"/>
<path d="M89.88 168.36L92.33 166.64L92.33 170.09Z" fill="#ffa500" fill-opacity="0.5" stroke="#ffa500" stroke-width="0.65"/>
<path d="M97.33 164.41L99.78 162.68L99.78 166.13Z" fill="#ffa500" fill-opacity="0.5" stroke="#ffa500" stroke-width="0.65"/>
<path d="M104.78 160.20L107.23 158.48L107.23 161.93Z" fill="#ffa500" fill-opacity="0.5" stroke="#ffa500" stroke-width="0.65"/>
<path d="M112.23 155.75L114.68 154.03L114.68 157.48Z" fill="#ffa500" fill-opacity="0.5" stroke="#ffa500" stroke-width="0.65"/>
<path d="M119.68 151.07L122.13 149.35L122.13 152.79Z" fill="#ffa500" fill-opacity="0.5" stroke="#ffa500" stroke-width="0.65"/>
<path d="M127.13 146.16L129.58 144.44L129.58 147.89Z" fill="#ffa500" fill-opacity="0.5" stroke="#ffa500" stroke-width="0.65"/>
<path d="M134.58 141.05L137.03 139.32L137.03 142.77Z" fill="#ffa500" fill-opacity="0.5" stroke="#ffa500" stroke-width="0.65"/>
<path d="M142.03 135.75L144.48 134.02L144.48 137.47Z" fill="#ffa500" fill-opacity="0.5" stroke="#ffa500" stroke-width="0.65"/>
<path d="M149.48 130.28L151.93 128.56L151.93 132.01Z" fill="#ffa500" fill-opacity="0.5" stroke="#ffa500" stroke-width="0.65"/>
<path d="M156.93 124.69L159.38 122.96L159.38 126.41Z" fill="#ffa500" fill-opacity="0.5" stroke="#ffa500" stroke-width="0.65"/>
<path d="M164.38 118.98L166.83 117.26L166.83 120.71Z" fill="#ffa500" fill-opacity="0.5" stroke="#ffa500" stroke-width="0.65"/>
<path d="M171.83 113.21L174.28 111.49L174.28 114.93Z" fill="#ffa500" fill-opacity="0.5" stroke="#ffa500" stroke-width="0.65"/>
<path d="M179.28 107.40L181.73 105.68L181.73 109.12Z" fill="#ffa500" fill-opacity="0.5" stroke="#ffa500" stroke-width="0.65"/>
<path d="M186.73 101.59L189.18 99.87L189.18 103.31Z" fill="#ffa500" fill-opacity="0.5" stroke="#ffa500" stroke-width="0.65"/>
<path d="M194.18 95.82L196.63 94.09L196.63 97.54Z" fill="#ffa500" fill-opacity="0.5" stroke="#ffa500" stroke-width="0.65"/>
<path d="M201.63 90.11L204.08 88.39L204.08 91.84Z" fill="#ffa500" fill-opacity="0.5" stroke="#ffa500" stroke-width="0.65"/>
<path d="M209.08 84.52L211.53 82.79L211.53 86.24Z" fill="#ffa500" fill-opacity="0.5" stroke="#ffa500" stroke-width="0.65"/>
<path d="M216.53 79.05L218.98 77.33L218.98 80.78Z" fill="#ffa500" fill-opacity="0.5" stroke="#ffa500" stroke-width="0.65"/>
<path d="M223.98 73.75L226.43 72.03L226.43 75.48Z" fill="#ffa500" fill-opacity="0.5" stroke="#ffa500" stroke-width="0.65"/>
<path d="M231.43 68.64L233.88 66.91L233.88 70.36Z" fill="#ffa500" fill-opacity="0.5" stroke="#ffa500" stroke-width="0.65"/>
<path d="M238.88 63.73L241.33 62.01L241.33 65.45Z" fill="#ffa500" fill-opacity="0.5" stroke="#ffa500" stroke-width="0.65"/>
<path d="M246.33 59.05L248.78 57.32L248.78 60.77Z" fill="#ffa500" fill-opacity="0.5" stroke="#ffa500" stroke-width="0.65"/>
<path d="M253.78 54.60L256.23 52.87L256.23 56.32Z" fill="#ffa500" fill-opacity="0.5" stroke="#ffa500" stroke-width="0.65"/>
<path d="M261.23 50.39L263.68 48.67L263.68 52.12Z" fill="#ffa500" fill-opacity="0.5" stroke="#ffa500" stroke-width="0.65"/>
<path d="M268.68 46.44L271.13 44.71L271.13 48.16Z" fill="#ffa500" fill-opacity="0.5" stroke="#ffa500" stroke-width="0.65"/>
<path d="M276.13 42.73L278.58 41.00L278.58 44.45Z" fill="#ffa500" fill-opacity="0.5" stroke="#ffa500" stroke-width="0.65"/>
<path d="M283.58 39.27L286.03 37.54L286.03 40.99Z" fill="#ffa500" fill-opacity="0.5" stroke="#ffa500" stroke-width="0.65"/>
<path d="M291.03 36.05L293.48 34.33L293.48 37.77Z" fill="#ffa500" fill-opacity="0.5" stroke="#ffa500" stroke-width="0.65"/>
<path d="M298.48 33.07L300.93 31.34L300.93 34.79Z" fill="#ffa500" fill-opacity="0.5" stroke="#ffa500" stroke-width="0.65"/>
<path d="M305.93 30.31L308.38 28.59L308.38 32.04Z" fill="#ffa500" fill-opacity="0.5" stroke="#ffa500" stroke-width="0.65"/>
<path d="M313.38 27.77L315.83 26.05L315.83 29.50Z" fill="#ffa500" fill-opacity="0.5" stroke="#ffa500" stroke-width="0.65"/>
<path d="M320.83 25.44L323.28 23.72L323.28 27.17Z" fill="#ffa500" fill-opacity="0.5" stroke="#ffa500" stroke-width="0.65"/>
<path d="M328.28 23.31L330.73 21.58L330.73 25.03Z" fill="#ffa500" fill-opacity="0.5" stroke="#ffa500" stroke-width="0.65"/>
</g>
<text transform="translate(31.80,221.80) scale(1.05,1)" text-anchor="middle" fill="#1a1a1a" style="font-family:'Liberation Serif',serif;font-size:9.8px" >-2</text>
<text transform="translate(69.05,221.80) scale(1.05,1)" text-anchor="middle" fill="#1a1a1a" style="font-family:'Liberation Serif',serif;font-size:9.8px" >-1.5</text>
<text transform="translate(106.30,221.80) scale(1.05,1)" text-anchor="middle" fill="#1a1a1a" style="font-family:'Liberation Serif',serif;font-size:9.8px" >-1</text>
<text transform="translate(143.55,221.80) scale(1.05,1)" text-anchor="middle" fill="#1a1a1a" style="font-family:'Liberation Serif',serif;font-size:9.8px" >-0.5</text>
<text transform="translate(180.80,221.80) scale(1.05,1)" text-anchor="middle" fill="#1a1a1a" style="font-family:'Liberation Serif',serif;font-size:9.8px" >0</text>
<text transform="translate(218.05,221.80) scale(1.05,1)" text-anchor="middle" fill="#1a1a1a" style="font-family:'Liberation Serif',serif;font-size:9.8px" >0.5</text>
<text transform="translate(255.30,221.80) scale(1.05,1)" text-anchor="middle" fill="#1a1a1a" style="font-family:'Liberation Serif',serif;font-size:9.8px" >1</text>
<text transform="translate(292.55,221.80) scale(1.05,1)" text-anchor="middle" fill="#1a1a1a" style="font-family:'Liberation Serif',serif;font-size:9.8px" >1.5</text>
<text transform="translate(329.80,221.80) scale(1.05,1)" text-anchor="middle" fill="#1a1a1a" style="font-family:'Liberation Serif',serif;font-size:9.8px" >2</text>
<text transform="translate(29.20,215.50)" text-anchor="end" fill="#1a1a1a" style="font-family:'Liberation Serif',serif;font-size:8.5px" >0</text>
<text transform="translate(29.20,173.74)" text-anchor="end" fill="#1a1a1a" style="font-family:'Liberation Serif',serif;font-size:8.5px" >0.2</text>
<text transform="translate(29.20,131.98)" text-anchor="end" fill="#1a1a1a" style="font-family:'Liberation Serif',serif;font-size:8.5px" >0.4</text>
<text transform="translate(29.20,90.22)" text-anchor="end" fill="#1a1a1a" style="font-family:'Liberation Serif',serif;font-size:8.5px" >0.6</text>
<text transform="translate(29.20,48.46)" text-anchor="end" fill="#1a1a1a" style="font-family:'Liberation Serif',serif;font-size:8.5px" >0.8</text>
<text transform="translate(28.90,5.90)" text-anchor="end" fill="#1a1a1a" style="font-family:'Liberation Serif',serif;font-size:8.5px" >1</text>
<text transform="translate(127.90,237.40) scale(0.943,1)" text-anchor="start" fill="#1a1a1a" style="font-family:'Liberation Serif',serif;font-size:17.6px" >scaled energy,</text>
<text transform="translate(227.40,237.40) scale(1.13,1)" text-anchor="start" fill="#1a1a1a" style="font-family:'Liberation Serif',serif;font-size:18.4px" >ε</text>
<text transform="translate(12.70,180.60) rotate(-90) scale(0.987,1)" text-anchor="start" fill="#1a1a1a" style="font-family:'Liberation Serif',serif;font-size:17px" >transmission prob.,</text>
<text transform="translate(12.50,45.20) rotate(-90)" text-anchor="start" fill="#1a1a1a" style="font-family:'Liberation Serif',serif;font-size:17px" font-style="italic">T</text>
<rect x="53.1" y="11.9" width="113.1" height="95.5" fill="#fff" stroke="#1a1a1a" stroke-width="1"/>
<path d="M67.24 107.4v-2.7M67.24 11.9v2.7M81.38 107.4v-5.4M81.38 11.9v5.4M95.51 107.4v-2.7M95.51 11.9v2.7M109.65 107.4v-5.4M109.65 11.9v5.4M123.79 107.4v-2.7M123.79 11.9v2.7M137.92 107.4v-5.4M137.92 11.9v5.4M152.06 107.4v-2.7M152.06 11.9v2.7M53.1 95.46h2.7M166.2 95.46h-2.7M53.1 83.53h5.4M166.2 83.53h-5.4M53.1 71.59h2.7M166.2 71.59h-2.7M53.1 59.65h5.4M166.2 59.65h-5.4M53.1 47.71h2.7M166.2 47.71h-2.7M53.1 35.78h5.4M166.2 35.78h-5.4M53.1 23.84h2.7M166.2 23.84h-2.7" stroke="#1a1a1a" stroke-width="0.8" fill="none"/>
<polyline points="53.10,107.40 81.38,87.82 109.65,66.81 137.92,43.89 166.20,20.50" fill="none" stroke="#1a1a1a" stroke-width="0.8"/>
<circle cx="53.10" cy="107.40" r="2.1" fill="#000"/>
<circle cx="81.38" cy="87.82" r="2.1" fill="#000"/>
<circle cx="109.65" cy="66.81" r="2.1" fill="#000"/>
<circle cx="137.92" cy="43.89" r="2.1" fill="#000"/>
<circle cx="166.20" cy="20.50" r="2.1" fill="#000"/>
<text transform="translate(53.10,116.50) scale(0.95,1)" text-anchor="middle" fill="#1a1a1a" style="font-family:'Liberation Serif',serif;font-size:8.2px" >0</text>
<text transform="translate(81.38,116.50) scale(0.95,1)" text-anchor="middle" fill="#1a1a1a" style="font-family:'Liberation Serif',serif;font-size:8.2px" >0.25</text>
<text transform="translate(109.65,116.50) scale(0.95,1)" text-anchor="middle" fill="#1a1a1a" style="font-family:'Liberation Serif',serif;font-size:8.2px" >0.5</text>
<text transform="translate(137.92,116.50) scale(0.95,1)" text-anchor="middle" fill="#1a1a1a" style="font-family:'Liberation Serif',serif;font-size:8.2px" >0.75</text>
<text transform="translate(166.20,116.50) scale(0.95,1)" text-anchor="middle" fill="#1a1a1a" style="font-family:'Liberation Serif',serif;font-size:8.2px" >1</text>
<text transform="translate(50.10,110.90)" text-anchor="end" fill="#1a1a1a" style="font-family:'Liberation Serif',serif;font-size:8.2px" >1</text>
<text transform="translate(50.10,87.03)" text-anchor="end" fill="#1a1a1a" style="font-family:'Liberation Serif',serif;font-size:8.2px" >1.5</text>
<text transform="translate(50.10,63.15)" text-anchor="end" fill="#1a1a1a" style="font-family:'Liberation Serif',serif;font-size:8.2px" >2</text>
<text transform="translate(50.10,39.28)" text-anchor="end" fill="#1a1a1a" style="font-family:'Liberation Serif',serif;font-size:8.2px" >2.5</text>
<text transform="translate(50.10,15.40)" text-anchor="end" fill="#1a1a1a" style="font-family:'Liberation Serif',serif;font-size:8.2px" >3</text>
<text transform="translate(125.10,124.70) scale(1.15,1)" text-anchor="middle" fill="#1a1a1a" style="font-family:'Liberation Serif',serif;font-size:14.2px" >Δ</text>
<text transform="translate(45.20,59.40) rotate(-90) scale(1.13,1)" text-anchor="middle" fill="#1a1a1a" style="font-family:'Liberation Serif',serif;font-size:15.8px" >α</text>
<rect x="240.1" y="93.7" width="60.9" height="60" fill="#fff" stroke="#1a1a1a" stroke-width="0.8"/>
<circle cx="249.70" cy="99.60" r="1.45" fill="none" stroke="#000000" stroke-width="0.6"/>
<text transform="translate(261.20,104.10) scale(0.985,1)" text-anchor="start" fill="#1a1a1a" style="font-family:'Liberation Serif',serif;font-size:12.6px" >Δ=0</text>
<rect x="248.39" y="110.19" width="2.61" height="2.61" fill="none" stroke="#ff0000" stroke-width="0.6"/>
<text transform="translate(261.20,116.00) scale(0.985,1)" text-anchor="start" fill="#1a1a1a" style="font-family:'Liberation Serif',serif;font-size:12.6px" >Δ=0.25</text>
<path d="M249.70 121.73L251.37 123.40L249.70 125.07L248.03 123.40Z" fill="#00e000" fill-opacity="0.09" stroke="#00e000" stroke-width="0.6"/>
<text transform="translate(261.20,127.90) scale(0.985,1)" text-anchor="start" fill="#1a1a1a" style="font-family:'Liberation Serif',serif;font-size:12.6px" >Δ=0.5</text>
<path d="M249.70 133.70L251.29 136.58L248.10 136.58Z" fill="#0000ff" fill-opacity="0.15" stroke="#0000ff" stroke-width="0.6"/>
<text transform="translate(261.20,139.80) scale(0.985,1)" text-anchor="start" fill="#1a1a1a" style="font-family:'Liberation Serif',serif;font-size:12.6px" >Δ=0.75</text>
<path d="M248.18 147.20L250.34 145.68L250.34 148.72Z" fill="#ffa500" fill-opacity="0.15" stroke="#ffa500" stroke-width="0.6"/>
<text transform="translate(261.20,151.70) scale(0.985,1)" text-anchor="start" fill="#1a1a1a" style="font-family:'Liberation Serif',serif;font-size:12.6px" >Δ=1</text>
</svg></body></html>
